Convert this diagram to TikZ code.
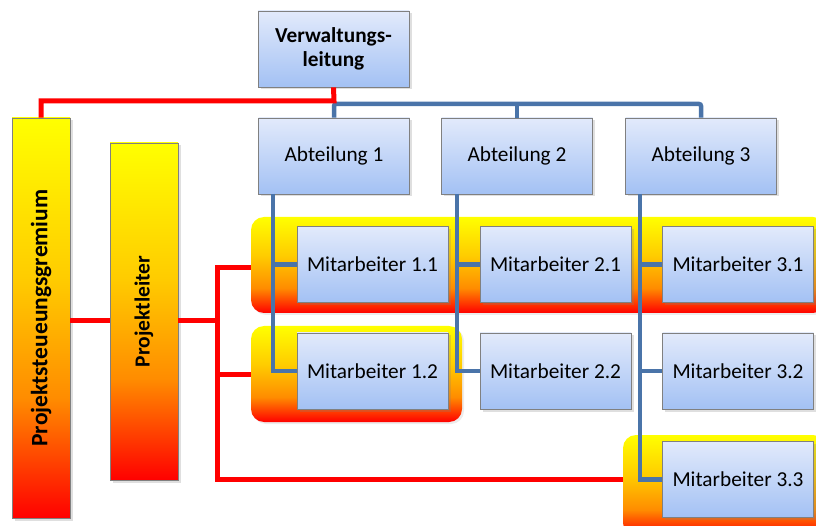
\documentclass[tikz,border=0pt]{standalone}
\usepackage{fontspec}
\setmainfont{Carlito}
\usetikzlibrary{shadows,calc}
\definecolor{boxtop}{HTML}{E2EAFB}
\definecolor{boxbot}{HTML}{A3C1F4}
\definecolor{boxline}{HTML}{808080}
\definecolor{bline}{HTML}{4A74A9}
\definecolor{rline}{HTML}{FF0000}
\definecolor{oyel}{HTML}{FFFF00}
\definecolor{ogold}{HTML}{FFCC00}
\definecolor{oorange}{HTML}{FF8C00}
\definecolor{ored}{HTML}{FF0000}
\pgfdeclareverticalshading{bandshade}{100bp}{color(0bp)=(ored); color(25bp)=(ored); color(38bp)=(oorange); color(55bp)=(ogold); color(75bp)=(oyel); color(100bp)=(oyel)}
\pgfdeclareverticalshading{barshade}{100bp}{color(0bp)=(ored); color(25bp)=(ored); color(40bp)=(oorange); color(55bp)=(ogold); color(75bp)=(oyel); color(100bp)=(oyel)}
\begin{document}
\begin{tikzpicture}[x=1pt,y=-1pt,
  box/.style={draw=boxline, line width=0.8pt, top color=boxtop, bottom color=boxbot,
    minimum width=151pt, minimum height=76pt, inner sep=0pt,
    font=\fontsize{21.3}{24}\selectfont, align=center,
    drop shadow={opacity=0.25, shadow xshift=2.5pt, shadow yshift=-2.5pt}},
  bandbox/.style={shading=bandshade, rounded corners=13pt, inner sep=0pt,
    drop shadow={opacity=0.15, shadow xshift=2pt, shadow yshift=-2pt}},
  barbox/.style={draw=boxline, line width=0.8pt, shading=barshade, inner sep=0pt,
    drop shadow={opacity=0.25, shadow xshift=2.5pt, shadow yshift=-2.5pt}},
  bartext/.style={rotate=90, font=\fontsize{21.5}{24}\selectfont\bfseries},
  bl/.style={draw=bline, line width=4.5pt},
  rl/.style={draw=rline, line width=5pt},
]
\useasboundingbox (0,0) rectangle (816,526);
\clip (0,0) rectangle (816,526);

% highlight bands
\node[bandbox, minimum width=575pt, minimum height=96pt] (B1) at (538.5,265) {};
\node[bandbox, minimum width=211pt, minimum height=96pt] (B2) at (356.5,374) {};
\node[bandbox, minimum width=203pt, minimum height=101pt] (B3) at (724.5,485.5) {};

% blue line anchors
\coordinate (bj) at (334,104);
\coordinate (d1) at (273,194);
\coordinate (d2) at (457,194);
\coordinate (d3) at (640,194);

% boxes
\node[box, font=\fontsize{21.3}{24}\selectfont\bfseries] (VL) at (333.5,49) {Verwaltungs-\\leitung};
\node[box] (A1) at (334,156) {Abteilung 1};
\node[box] (A2) at (517,156) {Abteilung 2};
\node[box] (A3) at (701,156) {Abteilung 3};

\draw[bl, rounded corners=2pt] (A1.north) -- (bj) -| (A3.north);
\draw[bl] (bj -| A2.north) -- (A2.north);

\draw[bl] (d1) |- (373,371);
\draw[bl] (d1 |- 0,264.5) -- (300,264.5);
\draw[bl] (d2) |- (556,371);
\draw[bl] (d2 |- 0,264.5) -- (482,264.5);
\draw[bl] (d3) |- (738,479.5);
\draw[bl] (d3 |- 0,264.5) -- (665,264.5);
\draw[bl] (d3 |- 0,371) -- (665,371);

\node[box] (M11) at (372.5,264.5) {Mitarbeiter 1.1};
\node[box] (M21) at (555.5,264.5) {Mitarbeiter 2.1};
\node[box] (M31) at (738,264.5) {Mitarbeiter 3.1};
\node[box] (M12) at (372.5,371) {Mitarbeiter 1.2};
\node[box] (M22) at (555.5,371) {Mitarbeiter 2.2};
\node[box] (M32) at (738,371) {Mitarbeiter 3.2};
\node[box] (M33) at (738,479.5) {Mitarbeiter 3.3};

% project bars
\node[barbox, minimum width=58pt, minimum height=400pt] (G) at (41,318) {};
\node[bartext, font=\fontsize{23.5}{26}\selectfont\bfseries] at (G) {Projektsteueungsgremium};
\node[barbox, minimum width=68pt, minimum height=337pt] (PL) at (144,311.5) {};
\node[bartext] at (PL) {Projektleiter};

% red lines
\draw[rl] (VL.south) -- (334,101) -| (G.north);
\coordinate (r) at (217,321);
\draw[rl] (G.east |- r) -- (PL.west |- r);
\draw[rl] (PL.east |- r) -- (r);
\coordinate (t1) at (217,268);
\coordinate (t3) at (217,479);
\draw[rl] (t1 -| B1.west) -- (t1) -- (t3) -- (t3 -| B3.west);
\draw[rl] (t1 |- B2.west) -- (B2.west);
\end{tikzpicture}
\end{document}
